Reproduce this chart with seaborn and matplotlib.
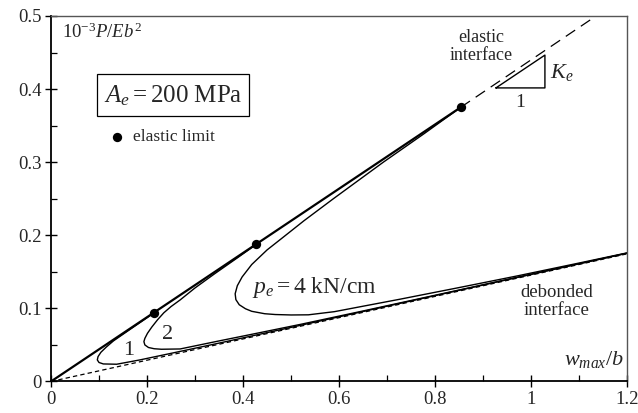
import numpy as np
import pandas as pd
import matplotlib
matplotlib.use("Agg")
import matplotlib.pyplot as plt
from matplotlib.patches import Rectangle
import seaborn as sns

# ---------------- data ----------------
elastic_limit_x = [0.2135, 0.4270, 0.8530]
elastic_limit_y = [0.0934, 0.1874, 0.3750]

elastic_solid_x = [0.0, 0.8530]
elastic_solid_y = [0.0, 0.3750]
elastic_dash_x = [0.8530, 1.1350]
elastic_dash_y = [0.3750, 0.5000]

debonded_x = [0.0, 1.2]
debonded_y = [0.0, 0.1747]

curve1_x = [0.2135, 0.170, 0.130, 0.115, 0.104, 0.098, 0.0965, 0.100, 0.109, 0.1368,
            0.185, 0.250, 0.350, 0.500, 0.700, 0.900, 1.200]
curve1_y = [0.0934, 0.0737, 0.0555, 0.0470, 0.0400, 0.0340, 0.0295, 0.0260, 0.0240, 0.0236,
            0.0295, 0.0385, 0.0525, 0.0740, 0.1030, 0.1320, 0.1755]

curve2_x = [0.4270, 0.390, 0.340, 0.300, 0.269, 0.250, 0.235, 0.222, 0.210, 0.201,
            0.1955, 0.1935, 0.1955, 0.203, 0.215, 0.230, 0.269, 0.350, 0.420, 0.520,
            0.650, 0.800, 1.000, 1.200]
curve2_y = [0.1874, 0.1700, 0.1470, 0.1280, 0.1116, 0.1025, 0.0940, 0.0845, 0.0745, 0.0660,
            0.0590, 0.0545, 0.0500, 0.0465, 0.0448, 0.0441, 0.0445, 0.0555, 0.0648, 0.0782,
            0.0965, 0.1180, 0.1468, 0.1757]

curve4_x = [0.8530, 0.778, 0.692, 0.588, 0.527, 0.479, 0.450, 0.418, 0.398, 0.388,
            0.3835, 0.385, 0.392, 0.405, 0.418, 0.445, 0.467, 0.500, 0.536, 0.590,
            0.650, 0.727, 0.850, 0.973, 1.100, 1.200]
curve4_y = [0.3750, 0.3395, 0.3000, 0.2500, 0.2200, 0.1950, 0.1800, 0.1600, 0.1430, 0.1310,
            0.1200, 0.1120, 0.1050, 0.0995, 0.0960, 0.0927, 0.0916, 0.0910, 0.0912, 0.0955,
            0.1030, 0.1126, 0.1285, 0.1447, 0.1621, 0.1760]

xticks = [0, 0.2, 0.4, 0.6, 0.8, 1.0, 1.2]
xticklabels = ["0", "0.2", "0.4", "0.6", "0.8", "1", "1.2"]
yticks = [0, 0.1, 0.2, 0.3, 0.4, 0.5]
yticklabels = ["0", "0.1", "0.2", "0.3", "0.4", "0.5"]

# ---------------- style ----------------
sns.set_style("ticks")
plt.rcParams['font.family'] = ['Liberation Serif', 'DejaVu Serif']
plt.rcParams['mathtext.fontset'] = 'custom'
plt.rcParams['mathtext.rm'] = 'Liberation Serif'
plt.rcParams['mathtext.it'] = 'Liberation Serif:italic'
plt.rcParams['mathtext.bf'] = 'Liberation Serif:bold'

fig = plt.figure(figsize=(6.38, 4.13), dpi=100)
ax = fig.add_axes([0.0799, 0.0763, 0.9033, 0.885])

def line(x, y, **kw):
    df = pd.DataFrame({"x": x, "y": y})
    sns.lineplot(data=df, x="x", y="y", sort=False, estimator=None, ax=ax, **kw)

line(debonded_x, debonded_y, color="black", lw=0.9, linestyle=(0, (3.5, 2.5)))
line(elastic_dash_x, elastic_dash_y, color="black", lw=0.9, linestyle=(0, (9, 5.5)))
line(curve1_x, curve1_y, color="black", lw=1.0)
line(curve2_x, curve2_y, color="black", lw=1.0)
line(curve4_x, curve4_y, color="black", lw=1.0)
line(elastic_solid_x, elastic_solid_y, color="black", lw=1.6)

sns.scatterplot(x=elastic_limit_x, y=elastic_limit_y, color="black", s=45,
                edgecolor="black", linewidth=0, ax=ax, zorder=5)

# slope triangle
tri_x = [0.9265, 1.0285, 1.0285, 0.9265]
tri_y = [0.4016, 0.4465, 0.4016, 0.4016]
line(tri_x, tri_y, color="black", lw=1.0)

# legend marker
sns.scatterplot(x=[0.138], y=[0.3345], color="black", s=45, linewidth=0, ax=ax, zorder=5)
ax.text(0.170, 0.3345, "elastic limit", fontsize=12.5, va="center", ha="left")

# boxed label
ax.add_patch(Rectangle((0.095, 0.363), 0.318, 0.0582, fill=False, ec="black", lw=0.9, zorder=4))
ax.text(0.254, 0.391, r"$A_e = 200\ \mathrm{MPa}$", fontsize=18, ha="center", va="center")

ax.text(0.022, 0.477, r"$10^{-3}P/Eb^2$", fontsize=13.5, ha="left", va="center")
ax.text(1.192, 0.030, r"$w_{max}/b$", fontsize=16, ha="right", va="center")

ax.text(0.896, 0.458, "elastic\ninterface", fontsize=13, ha="center", va="center",
        linespacing=1.05)
ax.text(1.053, 0.109, "debonded\ninterface", fontsize=13.5, ha="center", va="center",
        linespacing=1.05)

ax.text(1.040, 0.423, r"$K_e$", fontsize=16, ha="left", va="center")
ax.text(0.976, 0.381, "1", fontsize=14, ha="center", va="center")

ax.text(0.419, 0.1217, r"$p_e = 4\ \mathrm{kN/cm}$", fontsize=17, ha="left", va="baseline")
ax.text(0.161, 0.043, "1", fontsize=16, ha="center", va="center")
ax.text(0.243, 0.064, "2", fontsize=16, ha="center", va="center")

# axes
ax.set_xlim(0, 1.2)
ax.set_ylim(0, 0.5)
ax.set_xlabel("")
ax.set_ylabel("")
ax.set_xticks(xticks)
ax.set_xticklabels(xticklabels, fontsize=13.5)
ax.set_yticks(yticks)
ax.set_yticklabels(yticklabels, fontsize=13.5)
ax.set_xticks([0.1, 0.3, 0.5, 0.7, 0.9, 1.1], minor=True)
ax.set_yticks([0.05, 0.15, 0.25, 0.35, 0.45], minor=True)
ax.tick_params(which="major", direction="inout", length=8, width=1.0, color="black", pad=3)
ax.tick_params(which="minor", direction="in", length=4, width=0.9, color="black")

for s in ["left", "bottom"]:
    ax.spines[s].set_color("black")
    ax.spines[s].set_linewidth(1.3)
for s in ["top", "right"]:
    ax.spines[s].set_visible(True)
    ax.spines[s].set_color("#555555")
    ax.spines[s].set_linewidth(1.0)

fig.savefig("out.png", dpi=100)
